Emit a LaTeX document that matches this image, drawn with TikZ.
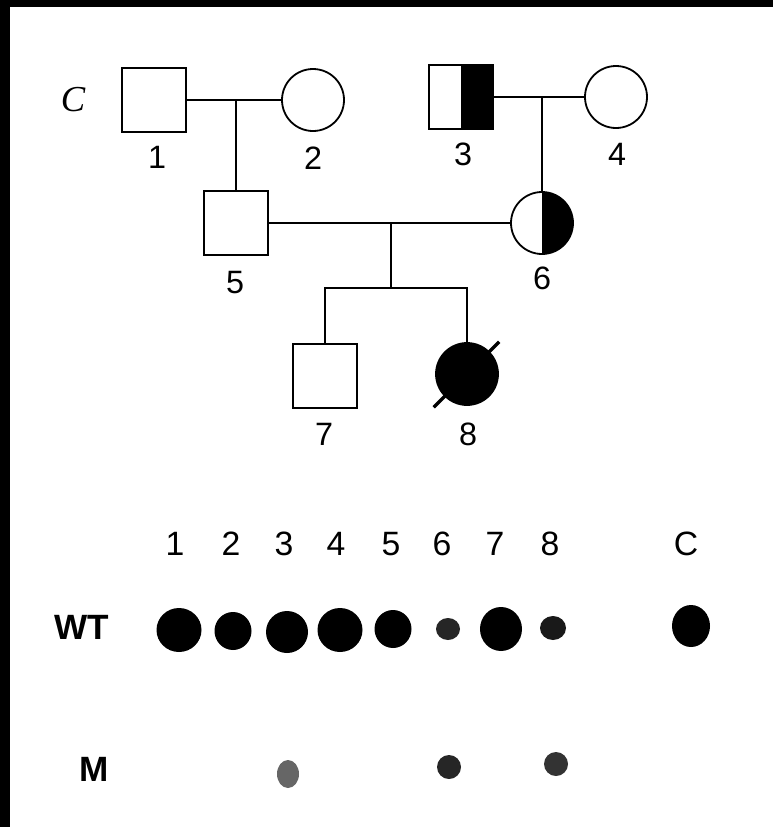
\documentclass[tikz,border=0pt]{standalone}
\usepackage{fontspec}
\setmainfont{Liberation Sans}
\newfontfamily\pedserif{Liberation Serif}

\tikzset{
	male/.style={draw, rectangle, line width=0.45mm, minimum size=16mm, inner sep=0pt},
	female/.style={draw, circle, line width=0.45mm, minimum size=15.5mm, inner sep=0pt},
	carrier/.style={path picture={\fill[black] (path picture bounding box.north) rectangle (path picture bounding box.south east);}},
	affected/.style={fill=black},
	idnum/.style={font=\fontsize{23}{26}\selectfont},
	lanenum/.style={font=\fontsize{24}{28}\selectfont},
	rowname/.style={font=\fontsize{25}{28}\selectfont\bfseries, anchor=east},
	link/.style={line width=0.4mm},
}

\begin{document}
\begin{tikzpicture}[x=0.25mm, y=-0.25mm]
			%%%%% START %%%%%
			\useasboundingbox (0, 0) rectangle (773, 827);
			\fill[black] (0, 0) rectangle (773, 7);
			\fill[black] (0, 0) rectangle (10, 827);
			
			% first generation
			\node[font=\pedserif\itshape\fontsize{26}{30}\selectfont] (fam) at (73, 100) {C};
			\node[male] (p1) at (154, 100) {};
			\node[female] (p2) at (313, 100) {};
			\node[male, carrier] (p3) at (461, 97) {};
			\node[female] (p4) at (616, 97) {};
			
			\node[idnum] (n1) at (157, 157) {1};
			\node[idnum] (n2) at (313, 158) {2};
			\node[idnum] (n3) at (463, 154) {3};
			\node[idnum] (n4) at (617, 154) {4};
			
			% second generation
			\node[male] (p5) at (236, 223) {};
			\node[female, carrier] (p6) at (542, 223) {};
			\node[idnum] (n5) at (235, 283) {5};
			\node[idnum] (n6) at (542, 278) {6};
			
			% third generation
			\node[male] (p7) at (325, 376) {};
			\node[female, affected] (p8) at (467, 374) {};
			\node[idnum] (n7) at (324, 434) {7};
			\node[idnum] (n8) at (468, 434) {8};
			\draw[line width=0.8mm, shorten <=-3.8mm, shorten >=-3.4mm] (p8.south west) -- (p8.north east);
			
			% lines of descent
			\coordinate (m12) at (236, 100);
			\coordinate (m34) at (542, 97);
			\coordinate (m56) at (391, 223);
			\coordinate (s78) at (391, 288);
			
			\draw[link] (p1) -- (p2);
			\draw[link] (m12) -- (p5);
			\draw[link] (p3) -- (p4);
			\draw[link] (m34) -- (p6);
			\draw[link] (p5) -- (p6);
			\draw[link] (m56) -- (s78);
			\draw[link] (p7) |- (s78) -| (p8);
			
			% dot blot
			\foreach \x/\t in {175/1, 231/2, 284/3, 336/4, 391/5, 442/6, 495/7, 550/8, 686/C}
				\node[lanenum] (lane\t) at (\x, 544) {\t};
			\node[rowname] (wt) at (114, 627) {WT};
			\node[rowname] (mut) at (114, 769) {M};
			
			\foreach \x/\y/\a/\b/\k in {179/630/22.5/22/100, 233/631/18.5/19/100, 287/632/21/21/100,
					340/630/22.5/22/100, 393/629/18.5/19/100, 448/629/12/11/85, 501/629/21/22/100,
					553/628/13/12/90, 691/626/19/21/100,
					288/774/11/14/60, 449/767/12/12/85, 556/764/12/12/80}
				\fill[black!\k] (\x, \y) ellipse [x radius=\a, y radius=\b];
			
			%%%%% END %%%%%
		\end{tikzpicture}
\end{document}
